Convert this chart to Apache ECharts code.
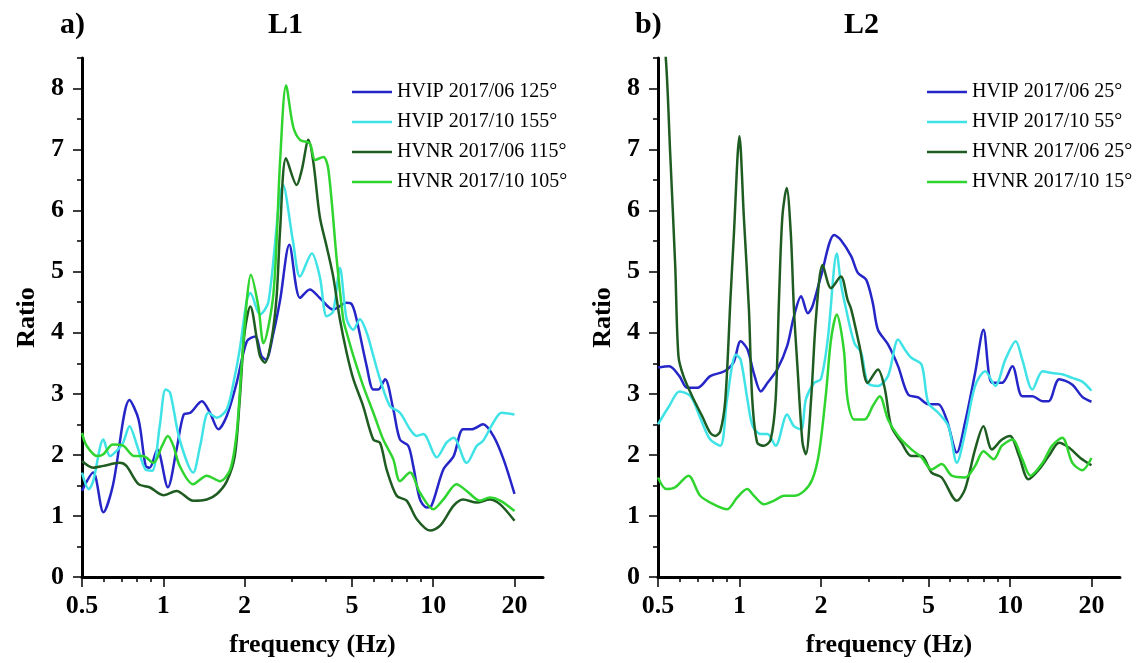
<!DOCTYPE html>
<html>
<head>
<meta charset="utf-8">
<script src="https://cdn.jsdelivr.net/npm/echarts@6/dist/echarts.min.js"></script>
<style>
html,body{margin:0;padding:0;background:#fff;}
#chart{width:1140px;height:663px;}
</style>
</head>
<body>
<div id="chart"></div>
<script>
// ---------- tick definitions ----------
const xTicks = [0.5, 1, 2, 5, 10, 20];
const xTickLabels = ['0.5', '1', '2', '5', '10', '20'];
const xMinorTicks = [0.6, 0.7, 0.8, 0.9, 3, 4, 6, 7, 8, 9];
const yTicks = [0, 1, 2, 3, 4, 5, 6, 7, 8];
const yMinorTicks = [0.5, 1.5, 2.5, 3.5, 4.5, 5.5, 6.5, 7.5, 8.5];
const X_MIN = 0.5, X_MAX = 25.5, Y_MAX = 8.5;

const panelTitles = ['L1', 'L2'];
const panelLetters = ['a)', 'b)'];
const namesL1 = ['HVIP 2017/06 125°', 'HVIP 2017/10 155°', 'HVNR 2017/06 115°', 'HVNR 2017/10 105°'];
const namesL2 = ['HVIP 2017/06 25°', 'HVIP 2017/10 55°', 'HVNR 2017/06 25°', 'HVNR 2017/10 15°'];
const colors = ['#2626c8', '#3fe3e6', '#1f5c22', '#2fd42f'];

// ---------- L1 data (frequency Hz, ratio) ----------
const l1_hvip06_f = [0.5,0.55,0.6,0.65,0.75,0.81,0.86,0.89,0.95,1.04,1.12,1.19,1.26,1.39,1.49,1.6,1.72,1.87,2.04,2.19,2.31,2.4,2.56,2.71,2.93,3.21,3.49,3.8,4.26,4.78,5.0,5.2,5.67,6.0,6.26,6.63,7.11,7.53,8.08,8.43,8.93,9.45,9.86,10.9,11.9,12.9,13.9,15.3,16.7,18.2,20];
const l1_hvip06_v = [1.41,1.71,1.06,1.49,2.9,2.58,1.82,1.79,2.09,1.47,2.09,2.66,2.69,2.88,2.69,2.42,2.64,3.18,3.86,3.94,3.62,3.56,4.0,4.54,5.44,4.57,4.71,4.57,4.38,4.49,4.46,4.22,3.45,3.07,3.07,3.24,2.75,2.25,2.15,1.82,1.27,1.14,1.17,1.76,1.98,2.42,2.42,2.5,2.31,1.93,1.36];

const l1_hvip10_f = [0.5,0.53,0.55,0.6,0.635,0.67,0.71,0.75,0.8,0.86,0.91,0.97,1.02,1.06,1.15,1.29,1.37,1.47,1.58,1.72,1.82,1.92,2.04,2.1,2.28,2.45,2.78,3.03,3.21,3.55,3.8,4.03,4.26,4.51,4.78,5.06,5.35,5.67,6.0,6.35,6.91,7.53,8.2,8.68,9.19,10.3,11.2,11.9,13.3,14.5,15.3,16.7,17.9,20];
const l1_hvip10_v = [1.71,1.44,1.57,2.25,1.98,2.06,2.2,2.47,2.15,1.76,1.74,2.47,3.07,3.02,2.25,1.71,2.15,2.69,2.61,2.75,3.18,3.73,4.54,4.65,4.3,4.5,6.42,5.47,4.92,5.3,4.92,4.27,4.35,5.06,4.22,4.05,4.22,4.0,3.62,3.24,2.8,2.69,2.42,2.31,2.34,1.96,2.2,2.28,1.87,2.15,2.23,2.53,2.69,2.66];

const l1_hvnr06_f = [0.5,0.55,0.6,0.69,0.73,0.81,0.89,1.0,1.12,1.29,1.45,1.58,1.72,1.84,1.92,2.0,2.1,2.28,2.38,2.52,2.63,2.71,2.85,3.12,3.26,3.45,3.6,3.8,4.03,4.26,4.51,4.78,5.06,5.5,6.0,6.35,6.72,7.32,7.97,8.68,9.73,10.6,11.9,12.9,14.5,16.2,17.7,20];
const l1_hvnr06_v = [1.9,1.79,1.82,1.87,1.82,1.52,1.47,1.34,1.41,1.25,1.27,1.36,1.57,1.98,2.91,4.0,4.43,3.62,3.51,3.9,4.6,5.7,6.86,6.42,6.67,7.16,6.78,5.9,5.41,4.92,4.22,3.67,3.24,2.8,2.25,2.2,1.76,1.33,1.25,0.95,0.76,0.84,1.17,1.27,1.22,1.27,1.19,0.92];

const l1_hvnr10_f = [0.5,0.52,0.57,0.6,0.65,0.71,0.78,0.84,0.92,0.99,1.04,1.09,1.15,1.29,1.45,1.62,1.77,1.87,1.95,2.04,2.11,2.25,2.35,2.56,2.71,2.85,3.03,3.21,3.49,3.65,3.92,4.09,4.39,4.64,4.78,5.06,5.5,6.0,6.53,7.11,7.53,8.2,8.93,10.0,10.9,12.2,13.3,14.9,16.2,17.7,20];
const l1_hvnr10_v = [2.36,2.15,1.98,2.01,2.17,2.15,1.98,1.98,1.87,2.15,2.31,2.15,1.82,1.52,1.66,1.57,1.76,2.36,3.45,4.54,4.95,4.43,3.83,4.65,6.83,8.05,7.37,7.16,7.1,6.83,6.88,6.67,5.2,4.22,4.0,3.62,3.13,2.69,2.25,1.93,1.57,1.71,1.38,1.11,1.27,1.52,1.41,1.25,1.3,1.25,1.08];

// ---------- L2 data (frequency Hz, ratio) ----------
const l2_hvip06_f = [0.5,0.55,0.6,0.64,0.7,0.78,0.88,0.95,1.01,1.07,1.13,1.2,1.27,1.38,1.5,1.59,1.69,1.79,1.86,2.0,2.24,2.37,2.59,2.74,2.94,3.11,3.25,3.54,3.86,4.2,4.58,4.99,5.43,5.83,6.36,6.82,7.43,7.98,8.57,9.34,10.2,11.1,12.1,13.2,13.9,15.2,17.0,18.5,20];
const l2_hvip06_v = [3.43,3.45,3.29,3.1,3.1,3.29,3.37,3.51,3.86,3.73,3.34,3.04,3.18,3.4,3.78,4.27,4.6,4.32,4.43,4.92,5.6,5.52,5.25,4.98,4.87,4.49,4.05,3.81,3.45,2.99,2.94,2.83,2.83,2.58,2.04,2.53,3.34,4.05,3.18,3.18,3.45,2.96,2.96,2.88,2.88,3.24,3.15,2.95,2.87];

const l2_hvip10_f = [0.5,0.55,0.6,0.66,0.72,0.78,0.85,0.9,0.97,1.01,1.07,1.12,1.2,1.27,1.36,1.5,1.59,1.69,1.76,1.89,2.0,2.12,2.29,2.37,2.48,2.66,2.82,2.98,3.25,3.54,3.86,4.08,4.32,4.71,4.99,5.43,5.92,6.36,6.82,7.43,8.1,8.82,9.61,10.5,11.1,12.1,13.2,14.3,15.6,17.0,18.5,20];
const l2_hvip10_v = [2.5,2.8,3.04,2.96,2.58,2.25,2.15,2.91,3.64,3.56,2.91,2.47,2.34,2.34,2.15,2.66,2.47,2.42,2.91,3.18,3.24,3.89,5.3,4.81,4.38,3.83,3.67,3.18,3.13,3.29,3.89,3.73,3.59,3.48,2.85,2.69,2.47,1.87,2.36,3.13,3.37,3.13,3.56,3.86,3.56,3.07,3.37,3.34,3.32,3.26,3.2,3.05];

const l2_hvnr06_f = [0.5,0.535,0.554,0.579,0.595,0.621,0.677,0.727,0.78,0.815,0.85,0.887,0.926,0.953,1.0,1.038,1.084,1.115,1.163,1.232,1.304,1.361,1.4,1.441,1.495,1.548,1.59,1.638,1.71,1.76,1.84,1.92,2.03,2.18,2.37,2.51,2.59,2.78,2.98,3.25,3.44,3.64,3.97,4.32,4.71,5.13,5.59,6.36,6.82,7.43,7.98,8.57,9.34,10.0,10.8,11.7,12.8,13.9,15.2,16.5,18.2,20];
const l2_hvnr06_v = [9.8,8.46,6.99,5.09,3.62,3.29,2.91,2.64,2.36,2.31,2.39,2.91,4.54,5.58,7.22,5.9,4.38,2.91,2.2,2.15,2.25,2.91,4.54,5.9,6.37,5.63,4.38,3.45,2.2,2.01,2.91,4.27,5.11,4.73,4.92,4.54,4.38,3.78,3.18,3.4,3.1,2.47,2.2,1.98,1.98,1.71,1.63,1.25,1.44,2.09,2.47,2.09,2.25,2.31,1.98,1.6,1.76,1.98,2.2,2.12,1.95,1.83];

const l2_hvnr10_f = [0.5,0.537,0.579,0.648,0.716,0.803,0.9,0.98,1.068,1.131,1.232,1.342,1.462,1.59,1.735,1.86,1.97,2.09,2.18,2.29,2.43,2.51,2.66,2.9,3.11,3.3,3.54,3.86,4.32,4.71,5.13,5.59,6.09,6.82,7.43,7.98,8.7,9.34,10.2,11.1,11.9,13.2,14.3,15.6,17.0,18.5,20];
const l2_hvnr10_v = [1.63,1.44,1.47,1.66,1.33,1.19,1.11,1.3,1.44,1.33,1.19,1.25,1.33,1.33,1.41,1.6,2.04,3.02,3.89,4.3,3.73,2.91,2.58,2.58,2.8,2.96,2.58,2.31,2.09,1.96,1.76,1.85,1.66,1.63,1.82,2.06,1.93,2.15,2.25,1.93,1.66,1.87,2.15,2.28,1.87,1.75,1.95];

// ---------- build options ----------
const FONT = '"Liberation Serif", "Times New Roman", serif';
function pairs(f, v) { return f.map((x, i) => [x, v[i]]); }
const log10 = Math.log10;

const panels = [
  { names: namesL1, data: [[l1_hvip06_f, l1_hvip06_v], [l1_hvip10_f, l1_hvip10_v], [l1_hvnr06_f, l1_hvnr06_v], [l1_hvnr10_f, l1_hvnr10_v]], legendLeft: 352 },
  { names: namesL2, data: [[l2_hvip06_f, l2_hvip06_v], [l2_hvip10_f, l2_hvip10_v], [l2_hvnr06_f, l2_hvnr06_v], [l2_hvnr10_f, l2_hvnr10_v]], legendLeft: 927 }
];
const grids = [
  { left: 82, top: 58, width: 461, height: 520 },
  { left: 658, top: 58, width: 462, height: 520 }
];

const labelStyle = { fontFamily: FONT, fontWeight: 'bold', fontSize: 26, color: '#000' };
const xAxes = [], yAxes = [], series = [], legends = [], titles = [];

panels.forEach((p, g) => {
  const xBase = xAxes.length;
  xAxes.push({
    type: 'log', logBase: 10, gridIndex: g, min: X_MIN, max: X_MAX, position: 'bottom',
    axisLine: { onZero: false, lineStyle: { color: '#000', width: 3 } },
    axisTick: { show: false }, axisLabel: { show: false },
    splitLine: { show: false }, minorTick: { show: false }, minorSplitLine: { show: false },
    name: 'frequency (Hz)', nameLocation: 'middle', nameGap: 55,
    nameTextStyle: labelStyle
  });
  xAxes.push({
    type: 'value', gridIndex: g, min: log10(X_MIN), max: log10(X_MAX), position: 'bottom',
    axisLine: { show: false, onZero: false },
    axisTick: { show: true, length: 10, customValues: xTicks.map(log10), lineStyle: { color: '#000', width: 1.5 } },
    axisLabel: {
      show: true, margin: 16, customValues: xTicks.map(log10),
      formatter: function (v) {
        for (let i = 0; i < xTicks.length; i++) if (Math.abs(log10(xTicks[i]) - v) < 1e-6) return xTickLabels[i];
        return '';
      },
      fontFamily: FONT, fontWeight: 'bold', fontSize: 26, color: '#000'
    },
    splitLine: { show: false }
  });
  xAxes.push({
    type: 'value', gridIndex: g, min: log10(X_MIN), max: log10(X_MAX), position: 'bottom',
    axisLine: { show: false, onZero: false },
    axisTick: { show: true, length: 5, customValues: xMinorTicks.map(log10), lineStyle: { color: '#000', width: 1.5 } },
    axisLabel: { show: false },
    splitLine: { show: false }
  });
  const yBase = yAxes.length;
  yAxes.push({
    type: 'value', gridIndex: g, min: 0, max: Y_MAX, position: 'left',
    axisLine: { show: true, onZero: false, lineStyle: { color: '#000', width: 3 } },
    axisTick: { show: true, length: 9, customValues: yTicks, lineStyle: { color: '#000', width: 1.5 } },
    axisLabel: { show: true, margin: 18, customValues: yTicks, fontFamily: FONT, fontWeight: 'bold', fontSize: 26, color: '#000' },
    splitLine: { show: false },
    name: 'Ratio', nameLocation: 'middle', nameRotate: 90, nameGap: 42,
    nameTextStyle: labelStyle
  });
  yAxes.push({
    type: 'value', gridIndex: g, min: 0, max: Y_MAX, position: 'left',
    axisLine: { show: false, onZero: false },
    axisTick: { show: true, length: 5, customValues: yMinorTicks, lineStyle: { color: '#000', width: 1.5 } },
    axisLabel: { show: false },
    splitLine: { show: false }
  });
  p.data.forEach((d, i) => {
    series.push({
      type: 'line', name: p.names[i], xAxisIndex: xBase, yAxisIndex: yBase,
      data: pairs(d[0], d[1]), symbol: 'none', showSymbol: false, smooth: 0.3, clip: true,
      lineStyle: { color: colors[i], width: 2.5 }, itemStyle: { color: colors[i] }
    });
  });
  legends.push({
    data: p.names, orient: 'vertical', left: p.legendLeft, top: 82,
    icon: 'rect', itemWidth: 40, itemHeight: 2.5, itemGap: 10, padding: 0,
    textStyle: { fontFamily: FONT, fontSize: 20, color: '#000', padding: [0, 0, 0, 0] },
    selectedMode: false
  });
});

titles.push({ text: panelLetters[0], left: 60, top: 10, padding: 0, textStyle: { fontFamily: FONT, fontWeight: 'bold', fontSize: 30, color: '#000' } });
titles.push({ text: panelTitles[0], left: 268, top: 10, padding: 0, textStyle: { fontFamily: FONT, fontWeight: 'bold', fontSize: 30, color: '#000' } });
titles.push({ text: panelLetters[1], left: 635, top: 10, padding: 0, textStyle: { fontFamily: FONT, fontWeight: 'bold', fontSize: 30, color: '#000' } });
titles.push({ text: panelTitles[1], left: 844, top: 10, padding: 0, textStyle: { fontFamily: FONT, fontWeight: 'bold', fontSize: 30, color: '#000' } });

const chart = echarts.init(document.getElementById('chart'), null, { renderer: 'canvas' });
chart.setOption({
  backgroundColor: '#fff',
  animation: false,
  title: titles,
  grid: grids,
  xAxis: xAxes,
  yAxis: yAxes,
  legend: legends,
  series: series
});
</script>
</body>
</html>
